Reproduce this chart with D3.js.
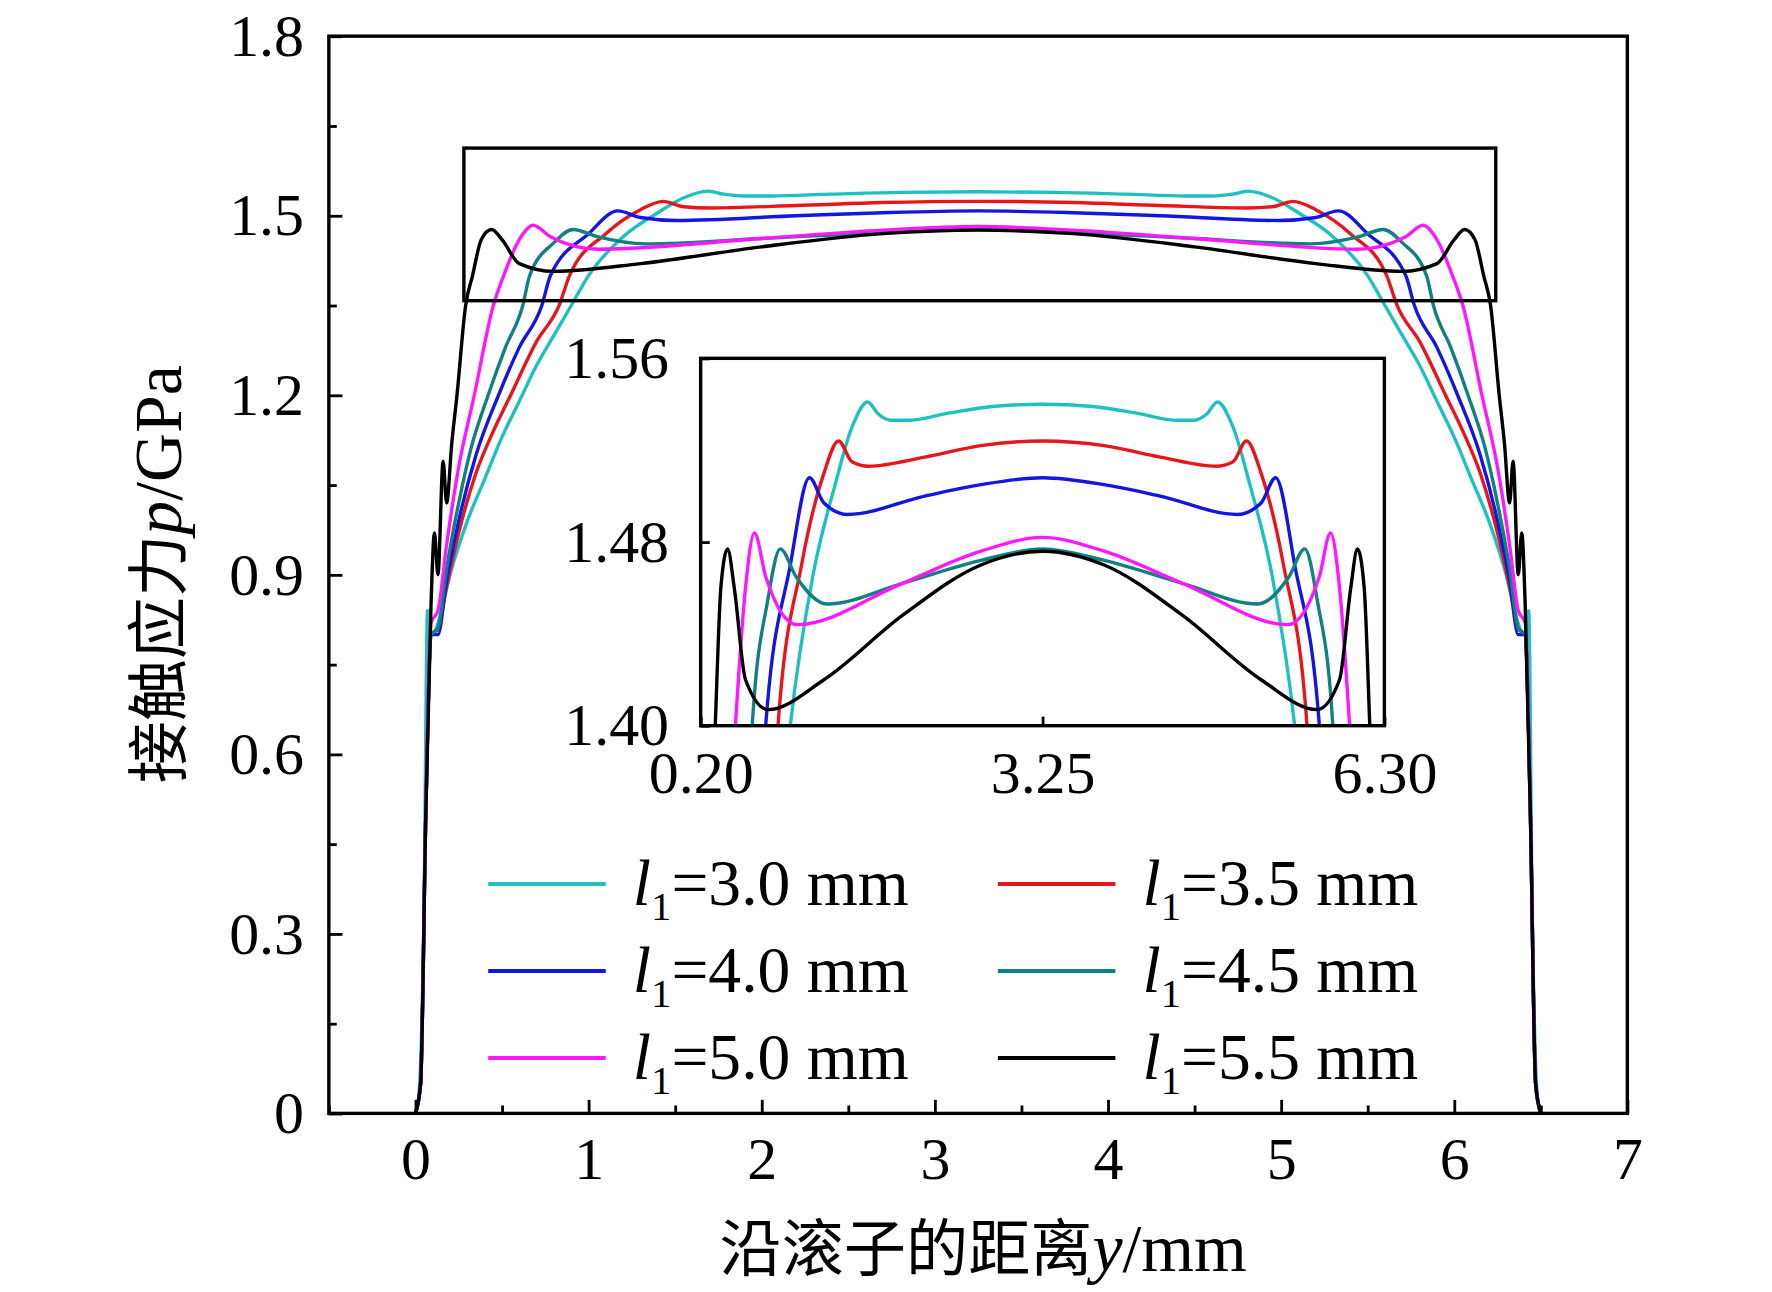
<!DOCTYPE html>
<html><head><meta charset="utf-8">
<script src="https://cdn.jsdelivr.net/npm/d3@7"></script>
<style>body{margin:0;background:#fff}text{font-family:"Liberation Serif","Times New Roman",serif}</style>
</head><body>
<svg id="c" width="1772" height="1292" viewBox="0 0 1568 1143" preserveAspectRatio="none"></svg>
<script>
// left half of each profile (0 .. 3.25 mm); profiles are symmetric about 3.25
const names = ["3.0", "3.5", "4.0", "4.5", "5.0", "5.5"];
const colors = ["#1ec0c0", "#e8161b", "#1515e0", "#108080", "#ff18ff", "#000000"];
const xs30 = [0,0.02,0.05,0.07,0.09,0.12,0.15,0.2,0.3,0.4,0.5,0.6,0.7,0.8,0.9,1.0,1.2,1.4,1.55,1.69,1.78,1.9,2.05,2.4,2.8,3.25];
const ys30 = [0,0.03,0.35,0.84,0.8,0.81,0.84,0.9,0.99,1.06,1.13,1.19,1.25,1.30,1.35,1.40,1.465,1.505,1.53,1.541,1.536,1.533,1.533,1.536,1.539,1.540];
const xs35 = [0,0.03,0.06,0.09,0.13,0.18,0.25,0.35,0.45,0.55,0.7,0.83,0.89,1.1,1.3,1.43,1.55,1.7,2.2,2.7,3.25];
const ys35 = [0,0.05,0.5,0.8,0.81,0.88,0.97,1.07,1.14,1.2,1.29,1.35,1.40,1.47,1.51,1.524,1.515,1.513,1.517,1.522,1.524];
const xs40 = [0,0.03,0.06,0.09,0.13,0.18,0.25,0.35,0.48,0.6,0.73,0.78,1.0,1.17,1.3,1.51,2.2,2.7,3.25];
const ys40 = [0,0.05,0.5,0.8,0.8,0.89,0.99,1.1,1.2,1.28,1.35,1.40,1.47,1.508,1.497,1.492,1.500,1.505,1.508];
const xs45 = [0,0.03,0.06,0.09,0.13,0.18,0.25,0.32,0.42,0.52,0.62,0.66,0.8,0.91,1.05,1.33,2.0,2.7,3.25];
const ys45 = [0,0.05,0.5,0.8,0.81,0.91,1.02,1.11,1.2,1.28,1.35,1.40,1.455,1.477,1.465,1.453,1.462,1.472,1.477];
const xs50 = [0,0.03,0.06,0.09,0.13,0.18,0.25,0.34,0.45,0.51,0.6,0.68,0.78,1.06,2.0,2.7,3.25];
const ys50 = [0,0.05,0.5,0.82,0.84,0.95,1.08,1.2,1.35,1.40,1.46,1.484,1.465,1.444,1.462,1.476,1.482];
const xs55 = [0,0.03,0.06,0.09,0.11,0.13,0.16,0.18,0.21,0.24,0.29,0.33,0.38,0.44,0.5,0.6,0.8,1.3,2.0,2.7,3.25];
const ys55 = [0,0.05,0.5,0.85,0.97,0.9,1.09,1.02,1.12,1.2,1.35,1.40,1.46,1.477,1.46,1.42,1.407,1.42,1.448,1.47,1.476];
const halfX = [xs30, xs35, xs40, xs45, xs50, xs55];
const halfY = [ys30, ys35, ys40, ys45, ys50, ys55];
const xTicks = [0,1,2,3,4,5,6,7];
const yTicks = [0,0.3,0.6,0.9,1.2,1.5,1.8];
const insetXTicks = [0.20,3.25,6.30];
const insetYTicks = [1.40,1.48,1.56];

const series = halfX.map((hx, i) => {
  const left = hx.map((x, j) => [x, halfY[i][j]]);
  const right = left.slice(0, -1).reverse().map(d => [6.5 - d[0], d[1]]);
  return left.concat(right);
});

const svg = d3.select("#c");
const x = d3.scaleLinear().domain([-0.5, 7]).range([291, 1440]);
const y = d3.scaleLinear().domain([0, 1.8]).range([985, 32]);

function drawLines(g, xs, ys) {
  series.forEach((s, i) => {
    g.append("path").datum(s)
      .attr("fill", "none").attr("stroke", colors[i]).attr("stroke-width", 3)
      .attr("d", d3.line().x(d => xs(d[0])).y(d => ys(d[1])).curve(d3.curveMonotoneX));
  });
}

drawLines(svg.append("g"), x, y);

// axes
svg.append("g").attr("transform", "translate(0,985)")
  .call(d3.axisBottom(x).tickValues(xTicks).tickSize(-12).tickPadding(20).tickFormat(d3.format("d")));
svg.append("g").attr("transform", "translate(0,985)")
  .call(d3.axisBottom(x).tickValues(d3.range(-0.5, 7, 1)).tickSize(-7).tickFormat(""));
svg.append("g").attr("transform", "translate(291,0)")
  .call(d3.axisLeft(y).tickValues(yTicks).tickSize(-12).tickPadding(22).tickFormat(d => d === 0 ? "0" : d3.format(".1f")(d)));
svg.append("g").attr("transform", "translate(291,0)")
  .call(d3.axisLeft(y).tickValues(d3.range(0.15, 1.8, 0.3)).tickSize(-7).tickFormat(""));
svg.selectAll(".domain").remove();
svg.selectAll(".tick line").attr("stroke", "#000").attr("stroke-width", 2.5);
svg.selectAll(".tick text").attr("font-size", 53).attr("fill", "#000");
svg.append("rect").attr("x", 291).attr("y", 32).attr("width", 1149).attr("height", 953)
  .attr("fill", "none").attr("stroke", "#000").attr("stroke-width", 3);

// zoom box
svg.append("rect").attr("x", x(0.28)).attr("y", y(1.613)).attr("width", x(6.24) - x(0.28)).attr("height", y(1.358) - y(1.613))
  .attr("fill", "none").attr("stroke", "#000").attr("stroke-width", 3);

// inset
const ix = d3.scaleLinear().domain([0.2, 6.3]).range([620, 1225]);
const iy = d3.scaleLinear().domain([1.40, 1.56]).range([642, 317]);
svg.append("rect").attr("x", 620).attr("y", 317).attr("width", 605).attr("height", 325).attr("fill", "#fff");
svg.append("clipPath").attr("id", "ic").append("rect").attr("x", 620).attr("y", 317).attr("width", 605).attr("height", 325);
drawLines(svg.append("g").attr("clip-path", "url(#ic)"), ix, iy);
const ig = svg.append("g");
ig.append("g").attr("transform", "translate(0,642)")
  .call(d3.axisBottom(ix).tickValues(insetXTicks).tickSize(-8).tickPadding(22).tickFormat(d3.format(".2f")));
ig.append("g").attr("transform", "translate(620,0)")
  .call(d3.axisLeft(iy).tickValues(insetYTicks).tickSize(-8).tickPadding(28).tickFormat(d3.format(".2f")));
ig.selectAll(".domain").remove();
ig.selectAll(".tick line").attr("stroke", "#000").attr("stroke-width", 2.5);
ig.selectAll(".tick text").attr("font-size", 53).attr("fill", "#000");
ig.append("rect").attr("x", 620).attr("y", 317).attr("width", 605).attr("height", 325)
  .attr("fill", "none").attr("stroke", "#000").attr("stroke-width", 3);

// legend
names.forEach((n, i) => {
  const lx = i % 2 === 0 ? 432 : 883, ly = 782 + Math.floor(i / 2) * 77;
  svg.append("line").attr("x1", lx).attr("x2", lx + 104).attr("y1", ly).attr("y2", ly)
    .attr("stroke", colors[i]).attr("stroke-width", 3.5);
  const t = svg.append("text").attr("x", lx + 128).attr("y", ly + 19).attr("font-size", 58);
  t.append("tspan").attr("font-style", "italic").text("l");
  t.append("tspan").attr("font-size", 36).attr("dy", 13).text("1");
  t.append("tspan").attr("dy", -13).text("=" + n + " mm");
});

// axis titles
const xt = svg.append("text").attr("x", 870).attr("y", 1124).attr("text-anchor", "middle").attr("font-size", 60);
xt.append("tspan").attr("font-family", "Noto Sans CJK SC").attr("font-size", 55).text("沿滚子的距离");
xt.append("tspan").attr("font-style", "italic").text("y");
xt.append("tspan").text("/mm");
const yt = svg.append("text").attr("transform", "translate(160,508) rotate(-90)").attr("text-anchor", "middle").attr("font-size", 60);
yt.append("tspan").attr("font-family", "Noto Sans CJK SC").attr("font-size", 55).text("接触应力");
yt.append("tspan").attr("font-style", "italic").text("p");
yt.append("tspan").text("/GPa");
</script>
</body></html>
